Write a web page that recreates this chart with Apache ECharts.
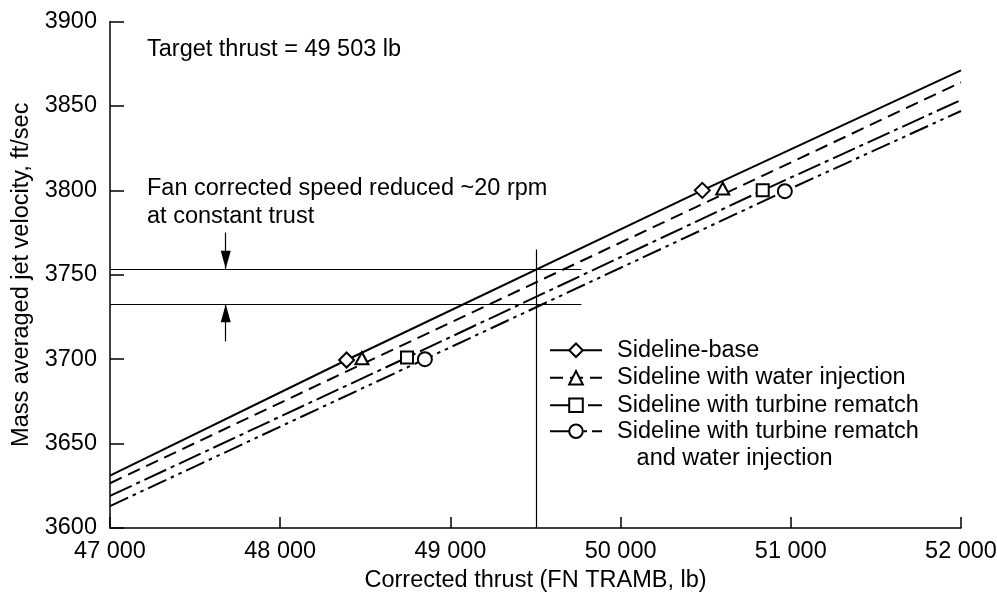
<!DOCTYPE html>
<html>
<head>
<meta charset="utf-8">
<script src="https://cdn.jsdelivr.net/npm/echarts@6/dist/echarts.min.js"></script>
<style>html,body{margin:0;padding:0;background:#fff}#c{width:997px;height:599px}</style>
</head>
<body>
<div id="c"></div>
<script>
// ---- data ----
const seriesNames = [
  'Sideline-base',
  'Sideline with water injection',
  'Sideline with turbine rematch',
  'Sideline with turbine rematch\n   and water injection'
];
const baseX = [47000, 48390, 50480, 52000];
const baseY = [3631, 3699.5, 3800, 3871];
const waterX = [47000, 48480, 50600, 52000];
const waterY = [3626.5, 3697, 3797.5, 3864];
const rematchX = [47000, 48745, 50835, 52000];
const rematchY = [3619, 3701, 3800, 3853.5];
const bothX = [47000, 48850, 50965, 52000];
const bothY = [3613, 3700, 3799.5, 3847];
const markerIdx = [1, 2];
const xTicks = [47000, 48000, 49000, 50000, 51000, 52000];
const yTicks = [3600, 3650, 3700, 3750, 3800, 3850, 3900];
const targetThrust = 49503;
const upperLevel = 3753.5;
const lowerLevel = 3732.5;
const levelEndX = 49770;
const targetTopY = 3765;
const arrowX = 47680;
const arrowDownFrom = 3775;
const arrowUpFrom = 3710.5;

const FONT = "'Liberation Sans', Arial, sans-serif";
const FS = 23.5;

function mk(xs, ys) {
  return xs.map((x, i) => markerIdx.includes(i) ? [x, ys[i]] : { value: [x, ys[i]], symbol: 'none' });
}

const dashes = ['solid', [13, 7], [24, 5, 4, 5], [20, 5, 3.5, 5, 3.5, 5]];
const symbols = ['emptyDiamond', 'emptyTriangle', 'emptyRect', 'emptyCircle'];
const symSizes = [[15, 15], [13, 12], [12, 12], [14, 14]];
const symOffsets = [[0, 0], [0, -6], [0, 0], [0, 0]];
const datas = [mk(baseX, baseY), mk(waterX, waterY), mk(rematchX, rematchY), mk(bothX, bothY)];

const series = seriesNames.map((n, i) => ({
  name: n,
  type: 'line',
  data: datas[i],
  symbol: symbols[i],
  symbolSize: symSizes[i],
  symbolOffset: symOffsets[i],
  showAllSymbol: true,
  animation: false,
  z: 3,
  lineStyle: { color: '#000', width: 2, type: dashes[i] },
  itemStyle: { color: '#000', borderColor: '#000', borderWidth: 1.3 },
  emphasis: { disabled: true }
}));

const thin = { color: '#000', width: 1.2, type: 'solid' };
series[0].markLine = {
  silent: true,
  symbol: 'none',
  animation: false,
  label: { show: false },
  lineStyle: thin,
  emphasis: { disabled: true },
  data: [
    [{ coord: [xTicks[0], upperLevel] }, { coord: [levelEndX, upperLevel] }],
    [{ coord: [xTicks[0], lowerLevel] }, { coord: [levelEndX, lowerLevel] }],
    [{ coord: [targetThrust, yTicks[0]] }, { coord: [targetThrust, targetTopY] }],
    [{ coord: [arrowX, arrowDownFrom], symbol: 'none' }, { coord: [arrowX, upperLevel], symbol: 'triangle', symbolSize: [10, 18], symbolOffset: [0, 9] }],
    [{ coord: [arrowX, arrowUpFrom], symbol: 'none' }, { coord: [arrowX, lowerLevel], symbol: 'triangle', symbolSize: [10, 18], symbolOffset: [0, 9] }]
  ]
};

const legendCommon = {
  orient: 'vertical',
  left: 549,
  padding: 0,
  itemWidth: 52, itemHeight: 17, itemGap: 0,
  selectedMode: false,
  textStyle: { fontFamily: FONT, fontSize: FS, color: '#000', lineHeight: 27.5, padding: [0, 0, 0, 10] }
};

const chart = echarts.init(document.getElementById('c'), null, { renderer: 'canvas' });
chart.setOption({
  animation: false,
  backgroundColor: '#fff',
  textStyle: { fontFamily: FONT, color: '#000' },
  grid: { left: 110, right: 36, top: 21.5, bottom: 71, containLabel: false, outerBoundsMode: 'none' },
  xAxis: {
    type: 'value', min: 47000, max: 52000, interval: 1000,
    name: 'Corrected thrust (FN TRAMB, lb)', nameLocation: 'middle', nameGap: 40,
    nameTextStyle: { fontFamily: FONT, fontSize: FS, color: '#000' },
    axisLine: { show: true, onZero: false, lineStyle: { color: '#000', width: 1.5 } },
    axisTick: { show: true, inside: true, length: 11, lineStyle: { color: '#000', width: 1.5 } },
    axisLabel: { fontFamily: FONT, fontSize: FS, color: '#000', margin: 12,
      formatter: v => String(v).replace(/\B(?=(\d{3})+(?!\d))/g, ' ') },
    splitLine: { show: false }
  },
  yAxis: {
    type: 'value', min: 3600, max: 3900, interval: 50,
    name: 'Mass averaged jet velocity, ft/sec', nameLocation: 'middle', nameGap: 68,
    nameTextStyle: { fontFamily: FONT, fontSize: FS, color: '#000' },
    axisLine: { show: true, onZero: false, lineStyle: { color: '#000', width: 1.5 } },
    axisTick: { show: true, inside: true, length: 14, lineStyle: { color: '#000', width: 1.5 } },
    axisLabel: { fontFamily: FONT, fontSize: FS, color: '#000', margin: 13, formatter: v => String(v) },
    splitLine: { show: false }
  },
  legend: [
    Object.assign({}, legendCommon, {
      top: 336.5,
      data: seriesNames.slice(0, 3)
    }),
    Object.assign({}, legendCommon, {
      top: 390,
      formatter: name => '\n' + name,
      data: [seriesNames[3]]
    })
  ],
  graphic: [
    { type: 'text', left: 147, top: 38, silent: true,
      style: { text: 'Target thrust = 49 503 lb', font: FS + 'px ' + FONT, fill: '#000' } },
    { type: 'text', left: 147, top: 175, silent: true,
      style: { text: 'Fan corrected speed reduced ~20 rpm\nat constant trust', font: FS + 'px ' + FONT, fill: '#000', lineHeight: 27.5 } }
  ],
  series: series
});
</script>
</body>
</html>
